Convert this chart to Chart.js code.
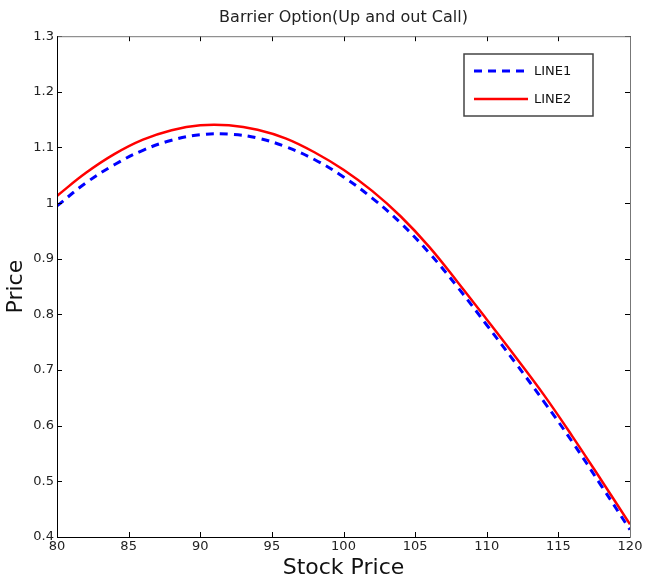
<!DOCTYPE html>
<html>
<head>
<meta charset="utf-8">
<script src="https://cdn.jsdelivr.net/npm/chart.js@4"></script>
<style>
html, body { margin: 0; padding: 0; background: #fff; }
#wrap { width: 646px; height: 577px; }
</style>
</head>
<body>
<div id="wrap"><canvas id="chart" width="646" height="577"></canvas></div>
<script>
// Dados
const stockPrice = [80, 82, 84, 86, 88, 90, 92, 94, 96, 98, 100, 102, 104, 106, 108, 110, 112, 114, 116, 118, 120];
const line1 = [0.995, 1.036, 1.069, 1.095, 1.113, 1.123, 1.124, 1.117, 1.101, 1.078, 1.047, 1.009, 0.964, 0.910, 0.848, 0.781, 0.713, 0.643, 0.570, 0.492, 0.413];
const line2 = [1.013, 1.054, 1.088, 1.114, 1.131, 1.140, 1.140, 1.132, 1.116, 1.091, 1.060, 1.022, 0.976, 0.921, 0.857, 0.791, 0.724, 0.655, 0.580, 0.502, 0.423];
const xTicks = [80, 85, 90, 95, 100, 105, 110, 115, 120];
const yTicks = [0.4, 0.5, 0.6, 0.7, 0.8, 0.9, 1.0, 1.1, 1.2, 1.3];

const font = "'DejaVu Sans', Verdana, sans-serif";

// Moldura e marcas de escala para dentro (estilo MATLAB)
const framePlugin = {
  id: 'frame',
  afterDatasetsDraw(chart) {
    const { ctx, chartArea: a, scales } = chart;
    const tl = 5;
    ctx.save();
    ctx.lineWidth = 1;
    ctx.strokeStyle = '#000';
    xTicks.forEach(v => {
      const px = Math.round(scales.x.getPixelForValue(v)) + 0.5;
      ctx.beginPath();
      ctx.moveTo(px, a.bottom); ctx.lineTo(px, a.bottom - tl);
      ctx.moveTo(px, a.top); ctx.lineTo(px, a.top + tl);
      ctx.stroke();
    });
    yTicks.forEach(v => {
      const py = Math.round(scales.y.getPixelForValue(v)) + 0.5;
      ctx.beginPath();
      ctx.moveTo(a.left, py); ctx.lineTo(a.left + tl, py);
      ctx.moveTo(a.right, py); ctx.lineTo(a.right - tl, py);
      ctx.stroke();
    });
    // topo e direita em cinza
    ctx.strokeStyle = '#777';
    ctx.beginPath();
    ctx.moveTo(a.left, a.top + 0.5); ctx.lineTo(a.right + 0.5, a.top + 0.5);
    ctx.lineTo(a.right + 0.5, a.bottom);
    ctx.stroke();
    // esquerda e base em preto
    ctx.strokeStyle = '#000';
    ctx.beginPath();
    ctx.moveTo(a.left + 0.5, a.top); ctx.lineTo(a.left + 0.5, a.bottom + 0.5);
    ctx.lineTo(a.right + 0.5, a.bottom + 0.5);
    ctx.stroke();

    // legenda dentro do gráfico
    const bx = 464, by = 54, bw = 129, bh = 62;
    ctx.fillStyle = '#fff';
    ctx.fillRect(bx, by, bw, bh);
    ctx.strokeStyle = '#444';
    ctx.lineWidth = 1.5;
    ctx.strokeRect(bx, by, bw, bh);
    chart.data.datasets.forEach((ds, i) => {
      const ly = by + 17 + i * 28;
      ctx.save();
      ctx.strokeStyle = ds.borderColor;
      ctx.lineWidth = ds.borderWidth;
      ctx.setLineDash(ds.borderDash || []);
      ctx.beginPath();
      ctx.moveTo(bx + 10, ly); ctx.lineTo(bx + 64, ly);
      ctx.stroke();
      ctx.restore();
      ctx.fillStyle = '#111';
      ctx.font = '13px ' + font;
      ctx.textBaseline = 'middle';
      ctx.fillText(ds.label, bx + 70, ly + 1);
    });
    ctx.restore();
  }
};

new Chart(document.getElementById('chart'), {
  type: 'line',
  data: {
    datasets: [
      {
        label: 'LINE1',
        data: stockPrice.map((x, i) => ({ x: x, y: line1[i] })),
        borderColor: '#0000ff',
        borderWidth: 3,
        borderDash: [8, 6],
        pointRadius: 0,
        tension: 0.4,
        fill: false
      },
      {
        label: 'LINE2',
        data: stockPrice.map((x, i) => ({ x: x, y: line2[i] })),
        borderColor: '#ff0000',
        borderWidth: 2.5,
        pointRadius: 0,
        tension: 0.4,
        fill: false
      }
    ]
  },
  options: {
    responsive: false,
    animation: false,
    layout: { padding: { left: 0, right: 16, top: 0, bottom: 0 } },
    plugins: {
      legend: { display: false },
      tooltip: { enabled: false },
      title: {
        display: true,
        fullSize: false,
        text: 'Barrier Option(Up and out Call)',
        color: '#222',
        font: { family: font, size: 16, weight: 'normal' },
        padding: { top: 8, bottom: 9 }
      }
    },
    scales: {
      x: {
        type: 'linear',
        min: 80,
        max: 120,
        afterBuildTicks: s => { s.ticks = xTicks.map(v => ({ value: v })); },
        afterFit: s => { s.height = 40; },
        grid: { display: false, drawTicks: false },
        border: { display: false },
        ticks: {
          color: '#222',
          font: { family: font, size: 13 },
          padding: 2,
          maxRotation: 0
        },
        title: {
          display: true,
          text: 'Stock Price',
          color: '#111',
          font: { family: font, size: 22, lineHeight: 0.8 },
          padding: { top: 0, bottom: 0 }
        }
      },
      y: {
        min: 0.4,
        max: 1.3,
        afterBuildTicks: s => { s.ticks = yTicks.map(v => ({ value: v })); },
        afterFit: s => { s.width = 57; },
        grid: { display: false, drawTicks: false },
        border: { display: false },
        ticks: {
          color: '#222',
          font: { family: font, size: 13 },
          padding: 3,
          callback: v => String(+v.toFixed(1))
        },
        title: {
          display: true,
          text: 'Price',
          color: '#111',
          font: { family: font, size: 22 },
          padding: { top: 3, bottom: 0 }
        }
      }
    }
  },
  plugins: [framePlugin]
});
</script>
</body>
</html>
